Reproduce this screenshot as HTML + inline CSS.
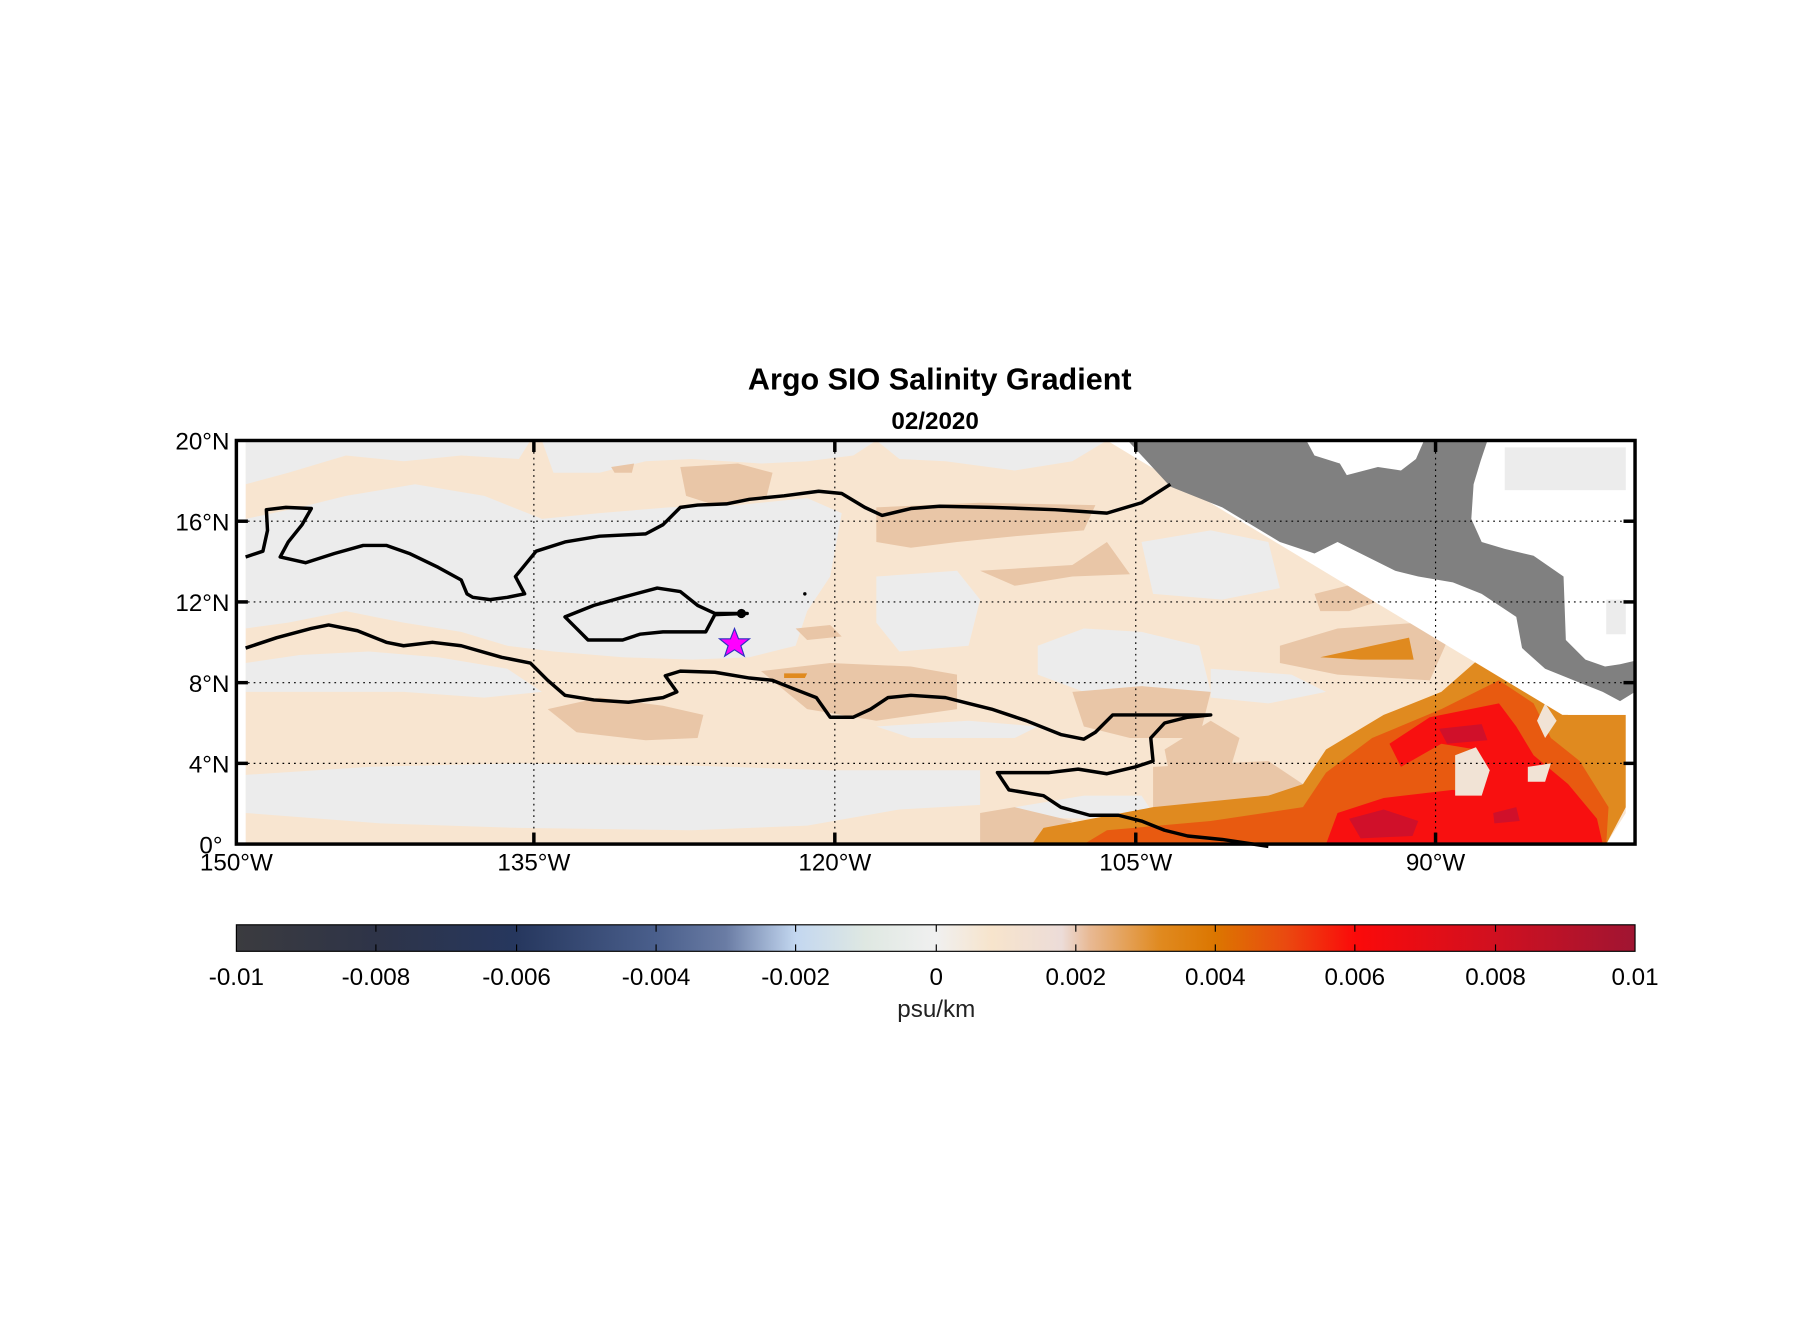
<!DOCTYPE html>
<html><head><meta charset="utf-8"><style>html,body{margin:0;padding:0;background:#fff}svg{display:block}</style></head>
<body>
<svg width="1808" height="1333" viewBox="0 0 1568 1156" preserveAspectRatio="none" xmlns="http://www.w3.org/2000/svg" font-family="Liberation Sans, Arial, sans-serif">
<defs>
<linearGradient id="cb" x1="0" x2="1" y1="0" y2="0">
<stop offset="0" stop-color="#3b3b3f"/>
<stop offset="0.1" stop-color="#2e3448"/>
<stop offset="0.2" stop-color="#26375e"/>
<stop offset="0.3" stop-color="#4a5f8c"/>
<stop offset="0.35" stop-color="#6a7ca4"/>
<stop offset="0.4" stop-color="#c3d7f0"/>
<stop offset="0.45" stop-color="#dfe8e2"/>
<stop offset="0.5" stop-color="#f0f0f0"/>
<stop offset="0.54" stop-color="#f7e4cc"/>
<stop offset="0.59" stop-color="#ecdcd8"/>
<stop offset="0.61" stop-color="#e8b994"/>
<stop offset="0.66" stop-color="#e08a20"/>
<stop offset="0.7" stop-color="#dc7600"/>
<stop offset="0.75" stop-color="#ea4a10"/>
<stop offset="0.8" stop-color="#fb0a0a"/>
<stop offset="0.9" stop-color="#d01020"/>
<stop offset="1" stop-color="#a01532"/>
</linearGradient>
<clipPath id="ax"><rect x="205" y="382" width="1213" height="350"/></clipPath>
</defs>

<text x="815" y="338" text-anchor="middle" font-size="26.5" font-weight="bold">Argo SIO Salinity Gradient</text>
<text x="811" y="372" text-anchor="middle" font-size="21" font-weight="bold">02/2020</text>

<g clip-path="url(#ax)">
<rect x="213" y="382" width="1197" height="350" fill="#f8e5d0"/>
<g fill="#ececec">
<path d="M213,382 L460,382 L450,398 L400,395 L350,400 L300,395 L250,410 L213,420Z"/>
<path d="M470,382 L760,382 L740,395 L700,400 L660,402 L600,398 L560,400 L520,410 L480,410Z"/>
<path d="M760,382 L960,382 L930,400 L880,408 L820,400 L780,398Z"/>
<path d="M213,450 L260,440 L300,430 L360,420 L420,430 L470,450 L520,445 L580,440 L640,438 L700,432 L730,445 L720,500 L700,530 L690,560 L650,570 L600,572 L540,570 L480,565 L440,560 L400,548 L350,540 L300,530 L250,540 L213,545Z"/>
<path d="M213,575 L260,568 L320,565 L380,570 L440,580 L470,600 L420,605 L350,600 L280,600 L213,600Z"/>
<path d="M213,672 L320,665 L450,662 L600,664 L720,668 L850,668 L850,698 L780,702 L700,716 L600,720 L450,718 L330,714 L213,705Z"/>
<path d="M760,500 L830,495 L850,520 L840,560 L780,565 L760,540Z"/>
<path d="M900,560 L940,545 L990,548 L1040,560 L1050,600 L1000,610 L940,600 L900,585Z"/>
<path d="M990,470 L1050,460 L1100,470 L1110,510 L1060,520 L1000,515Z"/>
<path d="M880,700 L940,690 L990,690 L1000,705 L940,710 L880,708Z"/>
<path d="M760,630 L840,625 L900,630 L880,640 L790,640Z"/>
<path d="M1050,580 L1120,585 L1150,600 L1100,610 L1050,605Z"/>
</g>
<g fill="#e9c6a7">
<path d="M590,405 L640,402 L670,410 L665,430 L620,438 L595,430Z"/>
<path d="M530,405 L550,402 L548,410 L533,410Z"/>
<path d="M760,440 L850,436 L950,438 L940,460 L880,465 L830,470 L790,475 L760,470Z"/>
<path d="M850,495 L930,490 L960,470 L980,498 L930,500 L880,508Z"/>
<path d="M475,615 L520,605 L575,612 L610,620 L605,640 L560,642 L500,635Z"/>
<path d="M660,582 L720,575 L790,578 L830,585 L830,615 L760,625 L700,615Z"/>
<path d="M930,600 L990,595 L1050,600 L1040,640 L980,640 L940,630Z"/>
<path d="M1010,650 L1050,625 L1075,640 L1060,690 L1020,700Z"/>
<path d="M850,705 L880,700 L930,712 L900,732 L850,732Z"/>
<path d="M1140,515 L1180,505 L1200,520 L1170,530 L1145,530Z"/>
<path d="M1110,560 L1160,545 L1230,540 L1260,545 L1240,590 L1160,585 L1110,575Z"/>
<path d="M690,545 L720,542 L730,552 L700,555Z"/>
<path d="M1000,665 L1100,660 L1130,680 L1100,695 L1000,700Z"/>
</g>
<g fill="#e08a1f">
<path d="M895,732 L905,718 L1000,700 L1100,690 L1130,680 L1150,650 L1200,620 L1250,600 L1290,565 L1340,600 L1360,620 L1410,620 L1410,700 L1393,732Z"/>
<path d="M1145,570 L1190,560 L1222,553 L1226,572 L1180,572Z"/>
<path d="M680,584 L700,584 L698,588 L680,588Z"/>
</g>
<g fill="#e85a10">
<path d="M940,732 L960,720 L1050,712 L1130,700 L1150,670 L1190,640 L1250,615 L1300,590 L1330,610 L1345,640 L1370,660 L1395,700 L1393,732Z"/>
</g>
<g fill="#f81010">
<path d="M1150,732 L1160,705 L1200,692 L1260,685 L1285,690 L1280,650 L1250,645 L1215,665 L1205,645 L1240,622 L1300,610 L1315,630 L1330,655 L1360,680 L1385,710 L1390,732Z"/>
</g>
<g fill="#f1e3d5">
<path d="M1262,655 L1280,648 L1292,668 L1285,690 L1262,690Z"/>
<path d="M1325,665 L1345,662 L1340,678 L1325,678Z"/>
<path d="M1340,610 L1350,625 L1340,640 L1333,625Z"/>
</g>
<g fill="#d0102a">
<path d="M1170,710 L1200,702 L1230,712 L1225,725 L1180,727Z"/>
<path d="M1248,632 L1285,628 L1290,642 L1255,645Z"/>
<path d="M1295,705 L1315,700 L1318,712 L1296,714Z"/>
</g>
<path d="M960,382 L1418,382 L1418,620 L1355,620 Z" fill="#fff"/>
<path d="M1410,620 L1418,620 L1418,732 L1393,732 L1410,705Z" fill="#fff"/>
<path d="M1305,388 L1410,388 L1410,425 L1305,425Z" fill="#ececec"/>
<path d="M1393,520 L1410,520 L1410,550 L1393,550Z" fill="#ececec"/>
<path d="M978,382 L1133,382 L1140,395 L1162,402 L1168,412 L1195,405 L1215,408 L1228,398 L1235,382 L1290,382 L1284,400 L1278,420 L1276,450 L1285,470 L1305,476 L1330,482 L1356,500 L1358,555 L1375,572 L1392,578 L1405,576 L1418,573 L1418,600 L1405,608 L1390,600 L1365,590 L1340,580 L1320,562 L1315,535 L1285,515 L1260,505 L1230,500 L1210,495 L1180,480 L1160,470 L1140,480 L1110,470 L1060,440 L1015,422 Z" fill="#808080"/>
</g>
<rect x="205" y="382" width="8" height="350" fill="#fff"/>

<g stroke="#000" stroke-width="1" stroke-dasharray="1.5,3.5">
<line x1="463" y1="382" x2="463" y2="732"/><line x1="724" y1="382" x2="724" y2="732"/>
<line x1="985" y1="382" x2="985" y2="732"/><line x1="1245" y1="382" x2="1245" y2="732"/>
<line x1="205" y1="452" x2="1418" y2="452"/><line x1="205" y1="522" x2="1418" y2="522"/>
<line x1="205" y1="592" x2="1418" y2="592"/><line x1="205" y1="662" x2="1418" y2="662"/>
</g>

<g fill="none" stroke="#000" stroke-width="3" stroke-linejoin="round">
<polyline points="213,483 228,478 232,460 231,442 248,440 270,441 262,455 250,470 243,483 265,488 290,480 315,473 335,473 355,480 380,492 400,503 405,515 410,518 425,520 440,518 455,515 447,500 465,478 490,470 520,465 560,463 575,455 590,440 605,438 630,437 650,433 680,430 710,426 730,428 750,440 765,447 790,441 815,439 860,440 915,442 960,445 990,436 1015,420"/>
<polygon points="490,535 515,525 540,518 570,510 590,513 605,525 620,532 648,532 620,533 612,548 575,548 555,550 540,555 510,555 500,545"/>
<polyline points="213,562 240,553 270,545 285,542 310,547 335,557 350,560 375,557 400,560 435,570 460,575 475,590 490,603 515,607 545,609 575,605 587,600 577,586 590,582 620,583 650,588 670,590 690,598 708,605 720,622 740,622 755,615 770,605 790,603 820,605 840,610 860,615 890,625 920,637 940,641 950,635 965,620 1000,620 1050,620 1030,622 1010,627 998,640 1000,660 985,665 960,671 935,667 910,670 865,670 875,685 905,690 920,700 945,707 970,707 990,712 1010,720 1030,725 1060,728 1100,734"/>
</g>
<circle cx="643" cy="532" r="4" fill="#000"/>
<circle cx="698" cy="515" r="1.5" fill="#000"/>

<polygon points="637,545 640.5,554 650,554 642.5,560 645.5,569 637,563.5 628.5,569 631.5,560 624,554 633.5,554" fill="#ff00ff" stroke="#3030c0" stroke-width="1"/>

<rect x="205" y="382" width="1213" height="350" fill="none" stroke="#000" stroke-width="3"/>
<g stroke="#000" stroke-width="3">
<line x1="463" y1="382" x2="463" y2="392"/><line x1="724" y1="382" x2="724" y2="392"/><line x1="985" y1="382" x2="985" y2="392"/><line x1="1245" y1="382" x2="1245" y2="392"/>
<line x1="463" y1="732" x2="463" y2="722"/><line x1="724" y1="732" x2="724" y2="722"/><line x1="985" y1="732" x2="985" y2="722"/><line x1="1245" y1="732" x2="1245" y2="722"/>
<line x1="205" y1="452" x2="215" y2="452"/><line x1="205" y1="522" x2="215" y2="522"/><line x1="205" y1="592" x2="215" y2="592"/><line x1="205" y1="662" x2="215" y2="662"/>
<line x1="1418" y1="452" x2="1408" y2="452"/><line x1="1418" y1="522" x2="1408" y2="522"/><line x1="1418" y1="592" x2="1408" y2="592"/><line x1="1418" y1="662" x2="1408" y2="662"/>
</g>

<g font-size="21" fill="#000">
<g text-anchor="end">
<text x="199" y="390">20°N</text><text x="199" y="460">16°N</text><text x="199" y="530">12°N</text><text x="199" y="600">8°N</text><text x="199" y="670">4°N</text><text x="193" y="740">0°</text>
</g>
<g text-anchor="middle">
<text x="205" y="755">150°W</text><text x="463" y="755">135°W</text><text x="724" y="755">120°W</text><text x="985" y="755">105°W</text><text x="1245" y="755">90°W</text>
</g>
</g>

<rect x="205" y="802" width="1213" height="23" fill="url(#cb)" stroke="#000" stroke-width="1"/>
<g stroke="#000" stroke-width="1">
<line x1="326" y1="802" x2="326" y2="808"/><line x1="448" y1="802" x2="448" y2="808"/><line x1="569" y1="802" x2="569" y2="808"/><line x1="690" y1="802" x2="690" y2="808"/><line x1="812" y1="802" x2="812" y2="808"/><line x1="933" y1="802" x2="933" y2="808"/><line x1="1054" y1="802" x2="1054" y2="808"/><line x1="1175" y1="802" x2="1175" y2="808"/><line x1="1297" y1="802" x2="1297" y2="808"/>
<line x1="326" y1="825" x2="326" y2="819"/><line x1="448" y1="825" x2="448" y2="819"/><line x1="569" y1="825" x2="569" y2="819"/><line x1="690" y1="825" x2="690" y2="819"/><line x1="812" y1="825" x2="812" y2="819"/><line x1="933" y1="825" x2="933" y2="819"/><line x1="1054" y1="825" x2="1054" y2="819"/><line x1="1175" y1="825" x2="1175" y2="819"/><line x1="1297" y1="825" x2="1297" y2="819"/>
</g>
<g font-size="21" text-anchor="middle" fill="#000">
<text x="205" y="854">-0.01</text><text x="326" y="854">-0.008</text><text x="448" y="854">-0.006</text><text x="569" y="854">-0.004</text><text x="690" y="854">-0.002</text><text x="812" y="854">0</text><text x="933" y="854">0.002</text><text x="1054" y="854">0.004</text><text x="1175" y="854">0.006</text><text x="1297" y="854">0.008</text><text x="1418" y="854">0.01</text>
<text x="812" y="882" fill="#222">psu/km</text>
</g>
</svg>
</body></html>
